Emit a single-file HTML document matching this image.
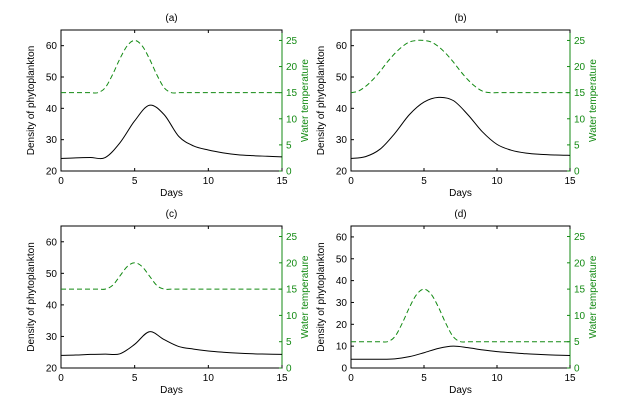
<!DOCTYPE html>
<html><head><meta charset="utf-8"><style>
html,body{margin:0;padding:0;background:#fff;}
svg{display:block;font-family:"Liberation Sans",sans-serif;}
</style></head><body>
<svg id="fig" width="638" height="414" viewBox="0 0 638 414"></svg>
<script>
const days = [0,1,2,3,4,5,6,7,8,9,10,11,12,13,14,15];
const tempDays = [0,0.5,1,1.5,2,2.5,3,3.5,4,4.5,5,5.5,6,6.5,7,7.5,8,8.5,9,9.5,10,10.5,11,11.5,12,12.5,13,13.5,14,14.5,15];
const tempA = [15,15,15,15,15,15,15.95,18.45,21.5,24,25,24,21.5,18.45,15.95,15,15,15,15,15,15,15,15,15,15,15,15,15,15,15,15];
const tempB = [15,15.3,16.2,17.5,19.1,20.9,22.5,23.8,24.7,25,25,24.7,23.8,22.5,20.9,19.1,17.5,16.2,15.3,15,15,15,15,15,15,15,15,15,15,15,15];
const tempC = [15,15,15,15,15,15,15,15.7,17.5,19.3,20,19.3,17.5,15.7,15,15,15,15,15,15,15,15,15,15,15,15,15,15,15,15,15];
const tempD = [5,5,5,5,5,5,5.95,8.45,11.5,14,15,14,11.5,8.45,5.95,5,5,5,5,5,5,5,5,5,5,5,5,5,5,5,5];
const densA = [24,24.2,24.3,24.3,29,36,41,38,31,28,26.7,25.8,25.2,24.9,24.7,24.5];
const densB = [24,24.6,27,32,38,42,43.5,42.5,38,32.5,28.5,26.6,25.7,25.3,25.1,25];
const densC = [24,24.1,24.3,24.4,24.5,27.5,31.5,29,26.8,26,25.4,25,24.7,24.5,24.4,24.3];
const densD = [4,4,4,4.2,5.2,7,9,10,9.3,8.3,7.5,7,6.5,6.2,5.9,5.7];
const xTicks = [0,5,10,15];
const leftTicksHigh = [20,30,40,50,60];
const leftTicksLow = [0,10,20,30,40,50,60];
const rightTicks = [0,5,10,15,20,25];
const titles = ['(a)','(b)','(c)','(d)'];

const NS='http://www.w3.org/2000/svg';
const svg=document.getElementById('fig');
function mk(tag,attrs,parent){const e=document.createElementNS(NS,tag);for(const k in attrs)e.setAttribute(k,attrs[k]);(parent||svg).appendChild(e);return e;}
function smooth(pts){let d='M'+pts[0][0].toFixed(2)+','+pts[0][1].toFixed(2);
 for(let i=0;i<pts.length-1;i++){const p0=pts[Math.max(0,i-1)],p1=pts[i],p2=pts[i+1],p3=pts[Math.min(pts.length-1,i+2)];
 const c1=[p1[0]+(p2[0]-p0[0])/6,p1[1]+(p2[1]-p0[1])/6],c2=[p2[0]-(p3[0]-p1[0])/6,p2[1]-(p3[1]-p1[1])/6];
 d+=' C'+c1[0].toFixed(2)+','+c1[1].toFixed(2)+' '+c2[0].toFixed(2)+','+c2[1].toFixed(2)+' '+p2[0].toFixed(2)+','+p2[1].toFixed(2);}return d;}

const panels=[
 {x0:61,x1:282,y0:30,y1:171,lmin:20,lticks:leftTicksHigh,temp:tempA,dens:densA},
 {x0:351,x1:570,y0:30,y1:171,lmin:20,lticks:leftTicksHigh,temp:tempB,dens:densB},
 {x0:61,x1:282,y0:226,y1:368,lmin:20,lticks:leftTicksHigh,temp:tempC,dens:densC},
 {x0:351,x1:570,y0:226,y1:368,lmin:0,lticks:leftTicksLow,temp:tempD,dens:densD}];
const green='#138a13';
panels.forEach((p,i)=>{
 const g=mk('g',{});
 
 
 const X=v=>p.x0+(p.x1-p.x0)*v/15;
 const YL=v=>p.y1-(p.y1-p.y0)*(v-p.lmin)/(65-p.lmin);
 const YR=v=>p.y1-(p.y1-p.y0)*v/27;
 const t=mk('text',{x:(p.x0+p.x1)/2,y:p.y0-9,'font-size':10,'text-anchor':'middle'},g);t.textContent=titles[i];
 
 
 mk('rect',{x:p.x0,y:p.y0,width:p.x1-p.x0,height:p.y1-p.y0,fill:'none',stroke:'#000','stroke-width':1},g);
 mk('line',{x1:p.x1,y1:p.y0,x2:p.x1,y2:p.y1,stroke:green,'stroke-width':1},g);
 xTicks.forEach(v=>{const x=X(v);
  mk('line',{x1:x,y1:p.y1,x2:x,y2:p.y1-3,stroke:'#000'},g);
  mk('line',{x1:x,y1:p.y0,x2:x,y2:p.y0+3,stroke:'#000'},g);
  const tx=mk('text',{x:x,y:p.y1+13,'font-size':10,'text-anchor':'middle'},g);tx.textContent=v;
  
  });
 p.lticks.forEach(v=>{const y=YL(v);
  mk('line',{x1:p.x0,y1:y,x2:p.x0+3,y2:y,stroke:'#000'},g);
  const tx=mk('text',{x:p.x0-4,y:y+3.5,'font-size':10,'text-anchor':'end'},g);tx.textContent=v;
  
  });
 rightTicks.forEach(v=>{const y=YR(v);
  mk('line',{x1:p.x1,y1:y,x2:p.x1-3,y2:y,stroke:green},g);
  const tx=mk('text',{x:p.x1+4,y:y+3.5,'font-size':10,fill:green},g);tx.textContent=v;
  
  });
 const xl=mk('text',{x:(p.x0+p.x1)/2,y:p.y1+25,'font-size':10,'text-anchor':'middle'},g);xl.textContent='Days';
 
 
 const lx=p.x0-27,ly=(p.y0+p.y1)/2;
 const yl=mk('text',{x:lx,y:ly,'font-size':10,'text-anchor':'middle',transform:`rotate(-90 ${lx} ${ly})`},g);yl.textContent='Density of phytoplankton';
 
 
 const rx=p.x1+26;
 const yr=mk('text',{x:rx,y:ly,'font-size':10,fill:green,'text-anchor':'middle',transform:`rotate(-90 ${rx} ${ly})`},g);yr.textContent='Water temperature';
 
 
 const tp=mk('path',{d:smooth(tempDays.map((d,k)=>[X(d),YR(p.temp[k])])),fill:'none',stroke:green,'stroke-width':1,'stroke-dasharray':'5,3'},g);
 
 
 const dp=mk('path',{d:smooth(days.map((d,k)=>[X(d),YL(p.dens[k])])),fill:'none',stroke:'#000','stroke-width':1},g);
 
 
});
</script>
</body></html>
